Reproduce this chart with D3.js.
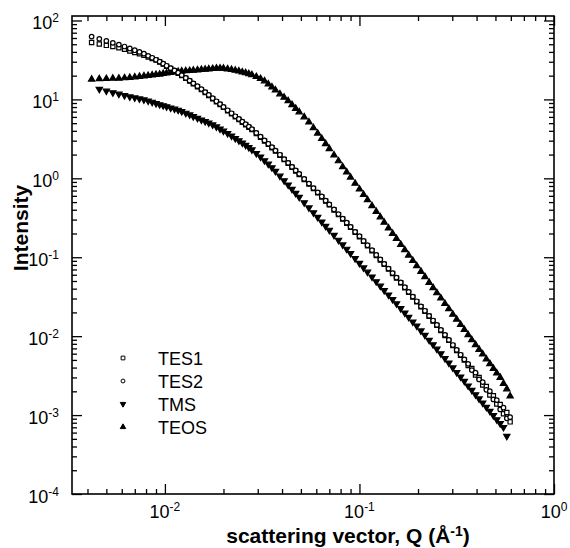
<!DOCTYPE html>
<html>
<head>
<meta charset="utf-8">
<script src="https://cdn.jsdelivr.net/npm/d3@7"></script>
<style>
  body { margin: 0; background: #fff; }
  svg { display: block; font-family: Arial, "Liberation Sans", Helvetica, sans-serif; }
</style>
</head>
<body>
<div id="chart"></div>
<script>
// scattering vector Q (1/Angstrom), shared by all four samples
var q = [
    0.0042, 0.0046, 0.0050, 0.0054, 0.0058, 0.0062, 0.0066, 0.0070, 0.0074, 0.0078, 0.0082, 0.0086, 0.0090, 0.0094, 0.0098, 0.0102,
    0.0107, 0.0112, 0.0117, 0.0122, 0.0128, 0.0134, 0.0140, 0.0147, 0.0154, 0.0161, 0.0168, 0.0176, 0.0184, 0.0192, 0.0200,
    0.021, 0.022, 0.023, 0.024, 0.025, 0.026, 0.027, 0.028, 0.0295, 0.031, 0.0325, 0.034, 0.0355, 0.037, 0.039, 0.041, 0.043, 0.045, 0.047, 0.049,
    0.052, 0.055, 0.058, 0.061, 0.064, 0.067, 0.070, 0.074, 0.078, 0.082, 0.086, 0.090, 0.095, 0.100,
    0.105, 0.110, 0.116, 0.122, 0.128, 0.134, 0.141, 0.148, 0.155, 0.163, 0.171, 0.179, 0.188, 0.197,
    0.207, 0.217, 0.228, 0.239, 0.250, 0.262, 0.275, 0.288, 0.302, 0.316, 0.331, 0.346, 0.362, 0.378, 0.395, 0.412, 0.430, 0.449, 0.468, 0.488, 0.508, 0.529, 0.550, 0.572, 0.595
];

var tes1 = [
    52.5, 50.3, 48.4, 46.8, 45.2, 43.2, 41.1, 39.4, 37.8, 36.2, 34.4, 32.9, 31.5, 29.8, 28.0, 26.3,
    24.6, 23.0, 21.5, 20.0, 18.5, 17.1, 15.8, 14.5, 13.3, 12.2, 11.2, 10.2, 9.35, 8.60, 7.92,
    7.18, 6.58, 6.03, 5.56, 5.14, 4.78, 4.45, 4.14, 3.70, 3.32, 2.97, 2.70, 2.44, 2.21, 1.96, 1.73, 1.55, 1.38, 1.24, 1.12,
    0.968, 0.845, 0.742, 0.656, 0.581, 0.515, 0.461, 0.398, 0.347, 0.305, 0.270, 0.240, 0.207, 0.182,
    0.159, 0.140, 0.121, 0.105, 0.0925, 0.0815, 0.0708, 0.0622, 0.0546, 0.0474, 0.0411, 0.0360, 0.0313, 0.0273,
    0.0236, 0.0207, 0.0179, 0.0156, 0.0137, 0.0118, 0.0102, 0.00885, 0.00762, 0.00660, 0.00573, 0.00500, 0.00425, 0.00390, 0.00322, 0.00300, 0.00241, 0.00230, 0.00180, 0.00176, 0.00138, 0.00136, 0.00104, 0.00108, 0.000820
];

var tes2 = [
    62.5, 58.5, 55.1, 52.1, 49.5, 46.8, 44.2, 42.0, 40.0, 38.0, 35.7, 33.7, 31.8, 30.1, 28.4, 26.7,
    24.9, 23.3, 21.8, 20.3, 18.7, 17.3, 16.0, 14.7, 13.5, 12.4, 11.4, 10.35, 9.48, 8.73, 8.04,
    7.29, 6.68, 6.12, 5.65, 5.22, 4.85, 4.52, 4.21, 3.76, 3.37, 3.02, 2.74, 2.48, 2.25, 1.99, 1.75, 1.57, 1.40, 1.26, 1.14,
    0.982, 0.857, 0.753, 0.665, 0.589, 0.522, 0.467, 0.404, 0.352, 0.309, 0.274, 0.243, 0.210, 0.185,
    0.161, 0.142, 0.123, 0.107, 0.0938, 0.0826, 0.0718, 0.0630, 0.0553, 0.0480, 0.0417, 0.0365, 0.0317, 0.0277,
    0.0239, 0.0210, 0.0181, 0.0158, 0.0139, 0.0120, 0.0104, 0.00897, 0.00773, 0.00670, 0.00581, 0.00507, 0.00446, 0.00372, 0.00345, 0.00283, 0.00262, 0.00209, 0.00201, 0.00158, 0.00155, 0.00118, 0.00124, 0.000910, 0.000940
];

var tms = [
    null, 13.5, 12.8, 12.2, 11.7, 11.2, 10.8, 10.5, 10.2, 9.91, 9.57, 9.25, 8.91, 8.61, 8.36, 8.09,
    7.82, 7.57, 7.33, 7.05, 6.71, 6.40, 6.08, 5.78, 5.51, 5.27, 5.05, 4.78, 4.50, 4.24, 3.98,
    3.71, 3.45, 3.21, 3.00, 2.81, 2.63, 2.47, 2.30, 2.07, 1.87, 1.68, 1.52, 1.37, 1.23, 1.07, 0.935, 0.826, 0.730, 0.647, 0.578,
    0.492, 0.424, 0.367, 0.321, 0.281, 0.248, 0.221, 0.190, 0.165, 0.144, 0.127, 0.112, 0.0964, 0.0839,
    0.0736, 0.0650, 0.0564, 0.0492, 0.0432, 0.0381, 0.0333, 0.0292, 0.0258, 0.0224, 0.0197, 0.0174, 0.0152, 0.0135,
    0.0117, 0.0103, 0.00891, 0.00783, 0.00687, 0.00601, 0.00524, 0.00458, 0.00398, 0.00348, 0.00305, 0.00269, 0.00235, 0.00207, 0.00182, 0.00161, 0.00143, 0.00126, 0.00112, 0.000989, 0.000877, 0.000783, 0.000700, 0.000540, null
];

var teos = [
    18.0, 18.2, 18.3, 18.5, 18.5, 18.7, 18.9, 19.2, 19.5, 19.8, 20.0, 20.3, 20.6, 20.8, 21.2, 21.5,
    21.9, 22.2, 22.5, 22.8, 23.0, 23.1, 23.3, 23.6, 23.8, 24.0, 24.3, 24.5, 24.8, 24.8, 24.7,
    24.3, 23.8, 23.3, 22.8, 22.2, 21.7, 21.1, 20.5, 19.4, 18.3, 17.1, 15.6, 14.3, 13.1, 11.7, 10.6, 9.59, 8.55, 7.67, 6.93,
    5.98, 5.15, 4.36, 3.72, 3.18, 2.74, 2.37, 1.97, 1.66, 1.40, 1.20, 1.03, 0.861, 0.728,
    0.621, 0.533, 0.448, 0.378, 0.323, 0.277, 0.234, 0.200, 0.172, 0.145, 0.124, 0.106, 0.0906, 0.0778,
    0.0659, 0.0566, 0.0479, 0.0411, 0.0353, 0.0303, 0.0258, 0.0222, 0.0189, 0.0163, 0.0140, 0.0121, 0.0104, 0.00899, 0.00778, 0.00678, 0.00592, 0.00512, 0.00447, 0.00389, 0.00340, 0.00299, 0.00251, 0.00214, 0.00174
];

var seriesNames = ["TES1", "TES2", "TMS", "TEOS"];
var xExponents = [-2, -1, 0];
var yExponents = [-4, -3, -2, -1, 0, 1, 2];

function drawChart() {
    var w = 570;
    var h = 548;
    var left = 72, right = 554, top = 16, bottom = 494;

    var svg = d3.select("#chart")
        .append("svg")
        .attr("width", w)
        .attr("height", h);

    var x = d3.scaleLog().domain([0.00333, 1]).range([left, right]);
    var y = d3.scaleLog().domain([1e-4, 114]).range([bottom, top]);

    var majorX = xExponents.map(function (e) { return Math.pow(10, e); });
    var majorY = yExponents.map(function (e) { return Math.pow(10, e); });
    var minorX = x.ticks().filter(function (t) { return majorX.indexOf(t) < 0; });
    var minorY = y.ticks().filter(function (t) { return majorY.indexOf(t) < 0 && t <= 100; });

    // ticks on all four sides, pointing inwards
    function ticks(axis, tr, vals, len) {
        var g = svg.append("g")
            .attr("transform", tr)
            .call(axis.tickValues(vals).tickSize(-len).tickFormat(""));
        g.select(".domain").remove();
        g.selectAll("line").attr("stroke", "#000").attr("stroke-width", 1.3);
    }
    ticks(d3.axisBottom(x), "translate(0," + bottom + ")", majorX, 10);
    ticks(d3.axisBottom(x), "translate(0," + bottom + ")", minorX, 5);
    ticks(d3.axisTop(x), "translate(0," + top + ")", majorX, 10);
    ticks(d3.axisTop(x), "translate(0," + top + ")", minorX, 5);
    ticks(d3.axisLeft(y), "translate(" + left + ",0)", majorY, 10);
    ticks(d3.axisLeft(y), "translate(" + left + ",0)", minorY, 5);
    ticks(d3.axisRight(y), "translate(" + right + ",0)", majorY, 10);
    ticks(d3.axisRight(y), "translate(" + right + ",0)", minorY, 5);

    svg.append("rect")
        .attr("x", left).attr("y", top)
        .attr("width", right - left).attr("height", bottom - top)
        .attr("fill", "none").attr("stroke", "#000").attr("stroke-width", 1.6);

    // tick labels: 10 with superscript exponent
    var ylab = svg.selectAll(".ylab")
        .data(yExponents)
        .enter()
        .append("text")
        .attr("class", "ylab")
        .attr("x", 59)
        .attr("y", function (d) { return y(Math.pow(10, d)) + 9; })
        .attr("text-anchor", "end")
        .attr("font-size", 18);
    ylab.append("tspan").text("10");
    ylab.append("tspan").attr("dy", -7).attr("font-size", 12).text(function (d) { return String(d); });

    var xlab = svg.selectAll(".xlab")
        .data(xExponents)
        .enter()
        .append("text")
        .attr("class", "xlab")
        .attr("x", function (d) { return x(Math.pow(10, d)); })
        .attr("y", 518)
        .attr("text-anchor", "middle")
        .attr("font-size", 18);
    xlab.append("tspan").text("10");
    xlab.append("tspan").attr("dy", -7).attr("font-size", 12).text(function (d) { return String(d); });

    // axis titles
    var xt = svg.append("text")
        .attr("x", 348).attr("y", 543)
        .attr("text-anchor", "middle")
        .attr("font-size", 21).attr("font-weight", "bold");
    xt.append("tspan").text("scattering vector, Q (\u00C5");
    xt.append("tspan").attr("dy", -7).attr("font-size", 14).text("-1");
    xt.append("tspan").attr("dy", 7).text(")");

    svg.append("text")
        .attr("transform", "translate(28,228) rotate(-90)")
        .attr("text-anchor", "middle")
        .attr("font-size", 21).attr("font-weight", "bold")
        .text("Intensity");

    // marker styles per series
    var shapes = [
        { sym: d3.symbolSquare, size: 18, fill: "#fff", rot: 0 },
        { sym: d3.symbolCircle, size: 16, fill: "#fff", rot: 0 },
        { sym: d3.symbolTriangle, size: 17, fill: "#000", rot: 180 },
        { sym: d3.symbolTriangle, size: 17, fill: "#000", rot: 0 }
    ];
    var allSeries = [tes1, tes2, tms, teos];

    [3, 2, 0, 1].forEach(function (k) {
        var pts = q.map(function (v, i) { return [v, allSeries[k][i]]; })
            .filter(function (p) { return p[1] != null; });
        var s = shapes[k];
        svg.append("g").selectAll("path")
            .data(pts)
            .enter()
            .append("path")
            .attr("d", d3.symbol().type(s.sym).size(s.size))
            .attr("transform", function (d) {
                return "translate(" + x(d[0]) + "," + y(d[1]) + ") rotate(" + s.rot + ")";
            })
            .attr("fill", s.fill)
            .attr("stroke", "#000")
            .attr("stroke-width", 1.2);
    });

    // legend
    var leg = svg.append("g").selectAll("g")
        .data(seriesNames)
        .enter()
        .append("g")
        .attr("transform", function (d, i) { return "translate(123," + (358 + i * 23) + ")"; });
    leg.append("path")
        .attr("d", function (d, i) { return d3.symbol().type(shapes[i].sym).size(shapes[i].size - 4)(); })
        .attr("transform", function (d, i) { return "rotate(" + shapes[i].rot + ")"; })
        .attr("fill", function (d, i) { return shapes[i].fill; })
        .attr("stroke", "#000");
    leg.append("text")
        .attr("x", 35).attr("y", 6.5)
        .attr("font-size", 18)
        .text(function (d) { return d; });
}

window.onload = drawChart;
</script>
</body>
</html>
